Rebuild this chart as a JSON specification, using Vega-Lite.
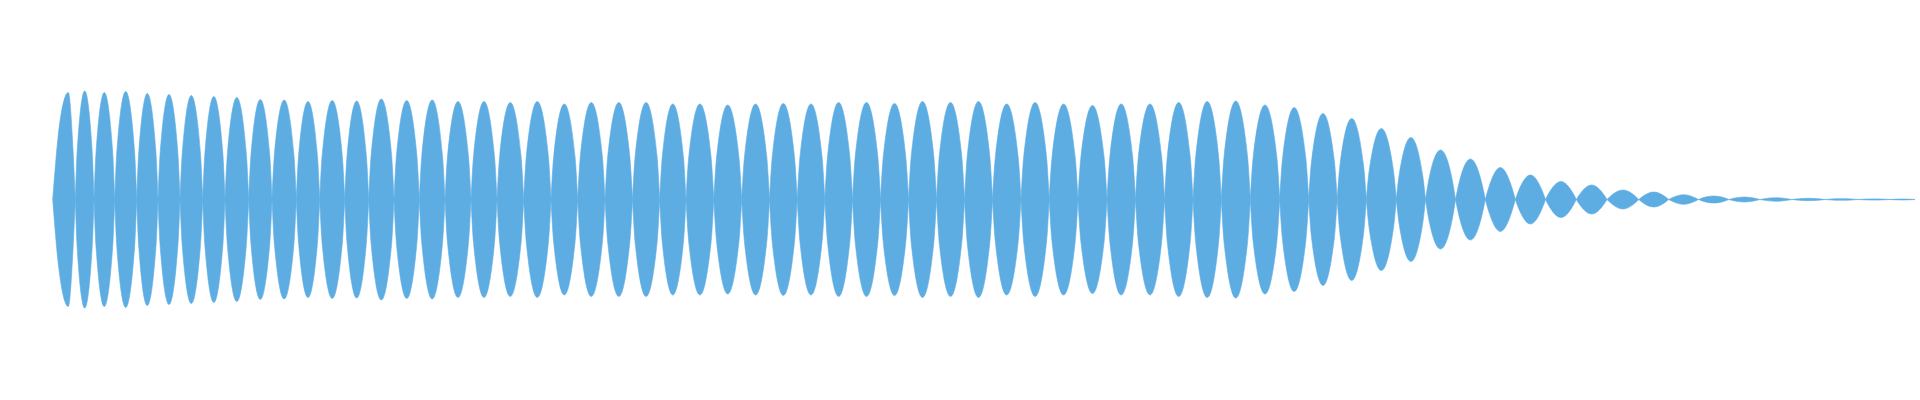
{
  "$schema": "https://vega.github.io/schema/vega-lite/v6.json",
  "width": 1920,
  "height": 400,
  "autosize": {"type": "fit", "contains": "padding"},
  "padding": 0,
  "background": "white",
  "config": {"view": {"stroke": null}},
  "data": {"values": [
    {"lobe":1,"t":52.7,"hi":0,"lo":0},{"lobe":1,"t":55.5,"hi":35,"lo":-35},{"lobe":1,"t":58,"hi":62,"lo":-62},{"lobe":1,"t":68.3,"hi":107,"lo":-107},{"lobe":1,"t":73.1,"hi":48,"lo":-48},{"lobe":1,"t":75.3,"hi":0,"lo":0},
    {"lobe":2,"t":75.3,"hi":0,"lo":0},{"lobe":2,"t":77.2,"hi":48.8,"lo":-48.8},{"lobe":2,"t":84.7,"hi":108.5,"lo":-108.5},{"lobe":2,"t":92.1,"hi":48.8,"lo":-48.8},{"lobe":2,"t":94,"hi":0,"lo":0},
    {"lobe":3,"t":94,"hi":0,"lo":0},{"lobe":3,"t":96.1,"hi":48.2,"lo":-48.2},{"lobe":3,"t":104.3,"hi":107,"lo":-107},{"lobe":3,"t":112.6,"hi":48.2,"lo":-48.2},{"lobe":3,"t":114.7,"hi":0,"lo":0},
    {"lobe":4,"t":114.7,"hi":0,"lo":0},{"lobe":4,"t":116.9,"hi":48.6,"lo":-48.6},{"lobe":4,"t":125.7,"hi":108,"lo":-108},{"lobe":4,"t":134.5,"hi":48.6,"lo":-48.6},{"lobe":4,"t":136.7,"hi":0,"lo":0},
    {"lobe":5,"t":136.7,"hi":0,"lo":0},{"lobe":5,"t":138.8,"hi":47.7,"lo":-47.7},{"lobe":5,"t":147.3,"hi":106,"lo":-106},{"lobe":5,"t":155.9,"hi":47.7,"lo":-47.7},{"lobe":5,"t":158,"hi":0,"lo":0},
    {"lobe":6,"t":158,"hi":0,"lo":0},{"lobe":6,"t":160.2,"hi":47.3,"lo":-47.3},{"lobe":6,"t":169,"hi":105,"lo":-105},{"lobe":6,"t":177.8,"hi":47.3,"lo":-47.3},{"lobe":6,"t":180,"hi":0,"lo":0},
    {"lobe":7,"t":180,"hi":0,"lo":0},{"lobe":7,"t":182.3,"hi":46.8,"lo":-46.8},{"lobe":7,"t":191.3,"hi":104,"lo":-104},{"lobe":7,"t":200.4,"hi":46.8,"lo":-46.8},{"lobe":7,"t":202.7,"hi":0,"lo":0},
    {"lobe":8,"t":202.7,"hi":0,"lo":0},{"lobe":8,"t":204.9,"hi":46.4,"lo":-46.4},{"lobe":8,"t":213.8,"hi":103,"lo":-103},{"lobe":8,"t":222.8,"hi":46.4,"lo":-46.4},{"lobe":8,"t":225,"hi":0,"lo":0},
    {"lobe":9,"t":225,"hi":0,"lo":0},{"lobe":9,"t":227.4,"hi":45.9,"lo":-45.9},{"lobe":9,"t":236.8,"hi":102,"lo":-102},{"lobe":9,"t":246.3,"hi":45.9,"lo":-45.9},{"lobe":9,"t":248.7,"hi":0,"lo":0},
    {"lobe":10,"t":248.7,"hi":0,"lo":0},{"lobe":10,"t":251,"hi":45,"lo":-45},{"lobe":10,"t":260.3,"hi":100,"lo":-100},{"lobe":10,"t":269.7,"hi":45,"lo":-45},{"lobe":10,"t":272,"hi":0,"lo":0},
    {"lobe":11,"t":272,"hi":0,"lo":0},{"lobe":11,"t":274.4,"hi":44.8,"lo":-44.8},{"lobe":11,"t":284.2,"hi":99.5,"lo":-99.5},{"lobe":11,"t":293.9,"hi":44.8,"lo":-44.8},{"lobe":11,"t":296.3,"hi":0,"lo":0},
    {"lobe":12,"t":296.3,"hi":0,"lo":0},{"lobe":12,"t":298.6,"hi":44.1,"lo":-44.1},{"lobe":12,"t":308,"hi":98,"lo":-98},{"lobe":12,"t":317.4,"hi":44.1,"lo":-44.1},{"lobe":12,"t":319.7,"hi":0,"lo":0},
    {"lobe":13,"t":319.7,"hi":0,"lo":0},{"lobe":13,"t":322.2,"hi":44.6,"lo":-44.6},{"lobe":13,"t":332.2,"hi":99,"lo":-99},{"lobe":13,"t":342.2,"hi":44.6,"lo":-44.6},{"lobe":13,"t":344.7,"hi":0,"lo":0},
    {"lobe":14,"t":344.7,"hi":0,"lo":0},{"lobe":14,"t":347.1,"hi":44.3,"lo":-44.3},{"lobe":14,"t":356.7,"hi":98.5,"lo":-98.5},{"lobe":14,"t":366.3,"hi":44.3,"lo":-44.3},{"lobe":14,"t":368.7,"hi":0,"lo":0},
    {"lobe":15,"t":368.7,"hi":0,"lo":0},{"lobe":15,"t":371.2,"hi":45.2,"lo":-45.2},{"lobe":15,"t":381.3,"hi":100.5,"lo":-100.5},{"lobe":15,"t":391.5,"hi":45.2,"lo":-45.2},{"lobe":15,"t":394,"hi":0,"lo":0},
    {"lobe":16,"t":394,"hi":0,"lo":0},{"lobe":16,"t":396.5,"hi":44.6,"lo":-44.6},{"lobe":16,"t":406.7,"hi":99,"lo":-99},{"lobe":16,"t":416.8,"hi":44.6,"lo":-44.6},{"lobe":16,"t":419.3,"hi":0,"lo":0},
    {"lobe":17,"t":419.3,"hi":0,"lo":0},{"lobe":17,"t":421.9,"hi":44.8,"lo":-44.8},{"lobe":17,"t":432.2,"hi":99.5,"lo":-99.5},{"lobe":17,"t":442.4,"hi":44.8,"lo":-44.8},{"lobe":17,"t":445,"hi":0,"lo":0},
    {"lobe":18,"t":445,"hi":0,"lo":0},{"lobe":18,"t":447.6,"hi":44.1,"lo":-44.1},{"lobe":18,"t":458,"hi":98,"lo":-98},{"lobe":18,"t":468.4,"hi":44.1,"lo":-44.1},{"lobe":18,"t":471,"hi":0,"lo":0},
    {"lobe":19,"t":471,"hi":0,"lo":0},{"lobe":19,"t":473.6,"hi":44.1,"lo":-44.1},{"lobe":19,"t":484,"hi":98,"lo":-98},{"lobe":19,"t":494.4,"hi":44.1,"lo":-44.1},{"lobe":19,"t":497,"hi":0,"lo":0},
    {"lobe":20,"t":497,"hi":0,"lo":0},{"lobe":20,"t":499.7,"hi":43.7,"lo":-43.7},{"lobe":20,"t":510.3,"hi":97,"lo":-97},{"lobe":20,"t":521,"hi":43.7,"lo":-43.7},{"lobe":20,"t":523.7,"hi":0,"lo":0},
    {"lobe":21,"t":523.7,"hi":0,"lo":0},{"lobe":21,"t":526.4,"hi":44.1,"lo":-44.1},{"lobe":21,"t":537.3,"hi":98,"lo":-98},{"lobe":21,"t":548.3,"hi":44.1,"lo":-44.1},{"lobe":21,"t":551,"hi":0,"lo":0},
    {"lobe":22,"t":551,"hi":0,"lo":0},{"lobe":22,"t":553.7,"hi":43,"lo":-43},{"lobe":22,"t":564.3,"hi":95.5,"lo":-95.5},{"lobe":22,"t":575,"hi":43,"lo":-43},{"lobe":22,"t":577.7,"hi":0,"lo":0},
    {"lobe":23,"t":577.7,"hi":0,"lo":0},{"lobe":23,"t":580.4,"hi":43.7,"lo":-43.7},{"lobe":23,"t":591.3,"hi":97,"lo":-97},{"lobe":23,"t":602.3,"hi":43.7,"lo":-43.7},{"lobe":23,"t":605,"hi":0,"lo":0},
    {"lobe":24,"t":605,"hi":0,"lo":0},{"lobe":24,"t":607.8,"hi":43.7,"lo":-43.7},{"lobe":24,"t":618.8,"hi":97,"lo":-97},{"lobe":24,"t":629.7,"hi":43.7,"lo":-43.7},{"lobe":24,"t":632.5,"hi":0,"lo":0},
    {"lobe":25,"t":632.5,"hi":0,"lo":0},{"lobe":25,"t":635.2,"hi":43.7,"lo":-43.7},{"lobe":25,"t":646.1,"hi":97,"lo":-97},{"lobe":25,"t":657,"hi":43.7,"lo":-43.7},{"lobe":25,"t":659.7,"hi":0,"lo":0},
    {"lobe":26,"t":659.7,"hi":0,"lo":0},{"lobe":26,"t":662.3,"hi":43,"lo":-43},{"lobe":26,"t":672.8,"hi":95.5,"lo":-95.5},{"lobe":26,"t":683.4,"hi":43,"lo":-43},{"lobe":26,"t":686,"hi":0,"lo":0},
    {"lobe":27,"t":686,"hi":0,"lo":0},{"lobe":27,"t":688.8,"hi":43,"lo":-43},{"lobe":27,"t":699.9,"hi":95.5,"lo":-95.5},{"lobe":27,"t":711,"hi":43,"lo":-43},{"lobe":27,"t":713.8,"hi":0,"lo":0},
    {"lobe":28,"t":713.8,"hi":0,"lo":0},{"lobe":28,"t":716.6,"hi":42.5,"lo":-42.5},{"lobe":28,"t":727.7,"hi":94.5,"lo":-94.5},{"lobe":28,"t":738.9,"hi":42.5,"lo":-42.5},{"lobe":28,"t":741.7,"hi":0,"lo":0},
    {"lobe":29,"t":741.7,"hi":0,"lo":0},{"lobe":29,"t":744.5,"hi":43,"lo":-43},{"lobe":29,"t":755.6,"hi":95.5,"lo":-95.5},{"lobe":29,"t":766.7,"hi":43,"lo":-43},{"lobe":29,"t":769.5,"hi":0,"lo":0},
    {"lobe":30,"t":769.5,"hi":0,"lo":0},{"lobe":30,"t":772.3,"hi":43.2,"lo":-43.2},{"lobe":30,"t":783.3,"hi":96,"lo":-96},{"lobe":30,"t":794.4,"hi":43.2,"lo":-43.2},{"lobe":30,"t":797.2,"hi":0,"lo":0},
    {"lobe":31,"t":797.2,"hi":0,"lo":0},{"lobe":31,"t":800,"hi":43,"lo":-43},{"lobe":31,"t":811,"hi":95.5,"lo":-95.5},{"lobe":31,"t":822,"hi":43,"lo":-43},{"lobe":31,"t":824.8,"hi":0,"lo":0},
    {"lobe":32,"t":824.8,"hi":0,"lo":0},{"lobe":32,"t":827.6,"hi":43.7,"lo":-43.7},{"lobe":32,"t":838.6,"hi":97,"lo":-97},{"lobe":32,"t":849.7,"hi":43.7,"lo":-43.7},{"lobe":32,"t":852.5,"hi":0,"lo":0},
    {"lobe":33,"t":852.5,"hi":0,"lo":0},{"lobe":33,"t":855.3,"hi":43.7,"lo":-43.7},{"lobe":33,"t":866.5,"hi":97,"lo":-97},{"lobe":33,"t":877.7,"hi":43.7,"lo":-43.7},{"lobe":33,"t":880.5,"hi":0,"lo":0},
    {"lobe":34,"t":880.5,"hi":0,"lo":0},{"lobe":34,"t":883.3,"hi":43.2,"lo":-43.2},{"lobe":34,"t":894.5,"hi":96,"lo":-96},{"lobe":34,"t":905.7,"hi":43.2,"lo":-43.2},{"lobe":34,"t":908.5,"hi":0,"lo":0},
    {"lobe":35,"t":908.5,"hi":0,"lo":0},{"lobe":35,"t":911.3,"hi":44.1,"lo":-44.1},{"lobe":35,"t":922.5,"hi":98,"lo":-98},{"lobe":35,"t":933.7,"hi":44.1,"lo":-44.1},{"lobe":35,"t":936.5,"hi":0,"lo":0},
    {"lobe":36,"t":936.5,"hi":0,"lo":0},{"lobe":36,"t":939.3,"hi":43.7,"lo":-43.7},{"lobe":36,"t":950.5,"hi":97,"lo":-97},{"lobe":36,"t":961.7,"hi":43.7,"lo":-43.7},{"lobe":36,"t":964.5,"hi":0,"lo":0},
    {"lobe":37,"t":964.5,"hi":0,"lo":0},{"lobe":37,"t":967.3,"hi":44.1,"lo":-44.1},{"lobe":37,"t":978.5,"hi":98,"lo":-98},{"lobe":37,"t":989.7,"hi":44.1,"lo":-44.1},{"lobe":37,"t":992.5,"hi":0,"lo":0},
    {"lobe":38,"t":992.5,"hi":0,"lo":0},{"lobe":38,"t":995.4,"hi":43,"lo":-43},{"lobe":38,"t":1006.7,"hi":95.5,"lo":-95.5},{"lobe":38,"t":1018.1,"hi":43,"lo":-43},{"lobe":38,"t":1021,"hi":0,"lo":0},
    {"lobe":39,"t":1021,"hi":0,"lo":0},{"lobe":39,"t":1023.8,"hi":43.7,"lo":-43.7},{"lobe":39,"t":1035.1,"hi":97,"lo":-97},{"lobe":39,"t":1046.4,"hi":43.7,"lo":-43.7},{"lobe":39,"t":1049.2,"hi":0,"lo":0},
    {"lobe":40,"t":1049.2,"hi":0,"lo":0},{"lobe":40,"t":1052.1,"hi":43,"lo":-43},{"lobe":40,"t":1063.6,"hi":95.5,"lo":-95.5},{"lobe":40,"t":1075.1,"hi":43,"lo":-43},{"lobe":40,"t":1078,"hi":0,"lo":0},
    {"lobe":41,"t":1078,"hi":0,"lo":0},{"lobe":41,"t":1080.9,"hi":42.3,"lo":-42.3},{"lobe":41,"t":1092.5,"hi":94,"lo":-94},{"lobe":41,"t":1104.1,"hi":42.3,"lo":-42.3},{"lobe":41,"t":1107,"hi":0,"lo":0},
    {"lobe":42,"t":1107,"hi":0,"lo":0},{"lobe":42,"t":1109.9,"hi":43,"lo":-43},{"lobe":42,"t":1121.2,"hi":95.5,"lo":-95.5},{"lobe":42,"t":1132.6,"hi":43,"lo":-43},{"lobe":42,"t":1135.5,"hi":0,"lo":0},
    {"lobe":43,"t":1135.5,"hi":0,"lo":0},{"lobe":43,"t":1138.4,"hi":43,"lo":-43},{"lobe":43,"t":1150,"hi":95.5,"lo":-95.5},{"lobe":43,"t":1161.6,"hi":43,"lo":-43},{"lobe":43,"t":1164.5,"hi":0,"lo":0},
    {"lobe":44,"t":1164.5,"hi":0,"lo":0},{"lobe":44,"t":1167.4,"hi":43.7,"lo":-43.7},{"lobe":44,"t":1178.7,"hi":97,"lo":-97},{"lobe":44,"t":1190.1,"hi":43.7,"lo":-43.7},{"lobe":44,"t":1193,"hi":0,"lo":0},
    {"lobe":45,"t":1193,"hi":0,"lo":0},{"lobe":45,"t":1195.8,"hi":44.1,"lo":-44.1},{"lobe":45,"t":1207.2,"hi":98,"lo":-98},{"lobe":45,"t":1218.5,"hi":44.1,"lo":-44.1},{"lobe":45,"t":1221.3,"hi":0,"lo":0},
    {"lobe":46,"t":1221.3,"hi":0,"lo":0},{"lobe":46,"t":1224.2,"hi":44.3,"lo":-44.3},{"lobe":46,"t":1235.8,"hi":98.5,"lo":-98.5},{"lobe":46,"t":1247.4,"hi":44.3,"lo":-44.3},{"lobe":46,"t":1250.3,"hi":0,"lo":0},
    {"lobe":47,"t":1250.3,"hi":0,"lo":0},{"lobe":47,"t":1253.2,"hi":42.5,"lo":-42.5},{"lobe":47,"t":1265,"hi":94.5,"lo":-94.5},{"lobe":47,"t":1276.8,"hi":42.5,"lo":-42.5},{"lobe":47,"t":1279.7,"hi":0,"lo":0},
    {"lobe":48,"t":1279.7,"hi":0,"lo":0},{"lobe":48,"t":1282.6,"hi":41.4,"lo":-41.4},{"lobe":48,"t":1294.2,"hi":92,"lo":-92},{"lobe":48,"t":1305.8,"hi":41.4,"lo":-41.4},{"lobe":48,"t":1308.7,"hi":0,"lo":0},
    {"lobe":49,"t":1308.7,"hi":0,"lo":0},{"lobe":49,"t":1311.6,"hi":38.7,"lo":-38.7},{"lobe":49,"t":1323,"hi":86,"lo":-86},{"lobe":49,"t":1334.3,"hi":38.7,"lo":-38.7},{"lobe":49,"t":1337.2,"hi":0,"lo":0},
    {"lobe":50,"t":1337.2,"hi":0,"lo":0},{"lobe":50,"t":1340.1,"hi":35.6,"lo":-35.6},{"lobe":50,"t":1351.7,"hi":81,"lo":-81},{"lobe":50,"t":1363.4,"hi":35.6,"lo":-35.6},{"lobe":50,"t":1366.3,"hi":0,"lo":0},
    {"lobe":51,"t":1366.3,"hi":0,"lo":0},{"lobe":51,"t":1369.3,"hi":29.8,"lo":-29.8},{"lobe":51,"t":1381.3,"hi":71,"lo":-71},{"lobe":51,"t":1393.3,"hi":29.8,"lo":-29.8},{"lobe":51,"t":1396.3,"hi":0,"lo":0},
    {"lobe":52,"t":1396.3,"hi":0,"lo":0},{"lobe":52,"t":1399.2,"hi":24.8,"lo":-24.8},{"lobe":52,"t":1410.9,"hi":62,"lo":-62},{"lobe":52,"t":1422.6,"hi":24.8,"lo":-24.8},{"lobe":52,"t":1425.5,"hi":0,"lo":0},
    {"lobe":53,"t":1425.5,"hi":0,"lo":0},{"lobe":53,"t":1428.5,"hi":18.3,"lo":-18.3},{"lobe":53,"t":1440.5,"hi":49.5,"lo":-49.5},{"lobe":53,"t":1452.5,"hi":18.3,"lo":-18.3},{"lobe":53,"t":1455.5,"hi":0,"lo":0},
    {"lobe":54,"t":1455.5,"hi":0,"lo":0},{"lobe":54,"t":1458.5,"hi":14.2,"lo":-14.2},{"lobe":54,"t":1470.4,"hi":40.5,"lo":-40.5},{"lobe":54,"t":1482.3,"hi":14.2,"lo":-14.2},{"lobe":54,"t":1485.3,"hi":0,"lo":0},
    {"lobe":55,"t":1485.3,"hi":0,"lo":0},{"lobe":55,"t":1488.3,"hi":10.6,"lo":-10.6},{"lobe":55,"t":1500.3,"hi":32,"lo":-32},{"lobe":55,"t":1512.3,"hi":10.6,"lo":-10.6},{"lobe":55,"t":1515.3,"hi":0,"lo":0},
    {"lobe":56,"t":1515.3,"hi":0,"lo":0},{"lobe":56,"t":1518.3,"hi":8.1,"lo":-8.1},{"lobe":56,"t":1530.4,"hi":24.5,"lo":-24.5},{"lobe":56,"t":1542.5,"hi":8.1,"lo":-8.1},{"lobe":56,"t":1545.5,"hi":0,"lo":0},
    {"lobe":57,"t":1545.5,"hi":0,"lo":0},{"lobe":57,"t":1548.6,"hi":5.9,"lo":-5.9},{"lobe":57,"t":1560.9,"hi":18,"lo":-18},{"lobe":57,"t":1573.2,"hi":5.9,"lo":-5.9},{"lobe":57,"t":1576.3,"hi":0,"lo":0},
    {"lobe":58,"t":1576.3,"hi":0,"lo":0},{"lobe":58,"t":1579.4,"hi":4.8,"lo":-4.8},{"lobe":58,"t":1591.7,"hi":14.5,"lo":-14.5},{"lobe":58,"t":1603.9,"hi":4.8,"lo":-4.8},{"lobe":58,"t":1607,"hi":0,"lo":0},
    {"lobe":59,"t":1607,"hi":0,"lo":0},{"lobe":59,"t":1610.2,"hi":3.1,"lo":-3.1},{"lobe":59,"t":1622.9,"hi":9.5,"lo":-9.5},{"lobe":59,"t":1635.6,"hi":3.1,"lo":-3.1},{"lobe":59,"t":1638.8,"hi":0,"lo":0},
    {"lobe":60,"t":1638.8,"hi":0,"lo":0},{"lobe":60,"t":1641.8,"hi":2.5,"lo":-2.5},{"lobe":60,"t":1653.8,"hi":7.5,"lo":-7.5},{"lobe":60,"t":1665.7,"hi":2.5,"lo":-2.5},{"lobe":60,"t":1668.7,"hi":0,"lo":0},
    {"lobe":61,"t":1668.7,"hi":0,"lo":0},{"lobe":61,"t":1671.7,"hi":1.6,"lo":-1.6},{"lobe":61,"t":1683.6,"hi":4.8,"lo":-4.8},{"lobe":61,"t":1695.5,"hi":1.6,"lo":-1.6},{"lobe":61,"t":1698.5,"hi":0,"lo":0},
    {"lobe":62,"t":1698.5,"hi":0,"lo":0},{"lobe":62,"t":1701.5,"hi":1.2,"lo":-1.2},{"lobe":62,"t":1713.7,"hi":3.5,"lo":-3.5},{"lobe":62,"t":1725.8,"hi":1.2,"lo":-1.2},{"lobe":62,"t":1728.8,"hi":0,"lo":0},
    {"lobe":63,"t":1728.8,"hi":0,"lo":0},{"lobe":63,"t":1731.9,"hi":0.8,"lo":-0.8},{"lobe":63,"t":1744.4,"hi":2.5,"lo":-2.5},{"lobe":63,"t":1756.9,"hi":0.8,"lo":-0.8},{"lobe":63,"t":1760,"hi":0,"lo":0},
    {"lobe":64,"t":1760,"hi":0,"lo":0},{"lobe":64,"t":1763.2,"hi":0.6,"lo":-0.6},{"lobe":64,"t":1776,"hi":1.8,"lo":-1.8},{"lobe":64,"t":1788.8,"hi":0.6,"lo":-0.6},{"lobe":64,"t":1792,"hi":0,"lo":0},
    {"lobe":65,"t":1792,"hi":0,"lo":0},{"lobe":65,"t":1795.3,"hi":0.4,"lo":-0.4},{"lobe":65,"t":1808.5,"hi":1.2,"lo":-1.2},{"lobe":65,"t":1821.7,"hi":0.4,"lo":-0.4},{"lobe":65,"t":1825,"hi":0,"lo":0},
    {"lobe":66,"t":1825,"hi":0,"lo":0},{"lobe":66,"t":1828.3,"hi":0.3,"lo":-0.3},{"lobe":66,"t":1841.5,"hi":0.8,"lo":-0.8},{"lobe":66,"t":1854.7,"hi":0.3,"lo":-0.3},{"lobe":66,"t":1858,"hi":0,"lo":0},
    {"lobe":67,"t":1858,"hi":0,"lo":0},{"lobe":67,"t":1861.2,"hi":0.2,"lo":-0.2},{"lobe":67,"t":1874,"hi":0.6,"lo":-0.6},{"lobe":67,"t":1886.8,"hi":0.2,"lo":-0.2},{"lobe":67,"t":1890,"hi":0,"lo":0},
    {"lobe":68,"t":1890,"hi":0,"lo":0},{"lobe":68,"t":1892.5,"hi":0.2,"lo":-0.2},{"lobe":68,"t":1902.5,"hi":0.5,"lo":-0.5},{"lobe":68,"t":1912.5,"hi":0.2,"lo":-0.2},{"lobe":68,"t":1915,"hi":0,"lo":0}
  ]},
  "mark": {"type": "area", "orient": "vertical", "interpolate": "monotone", "color": "#5DADE2", "stroke": "#5DADE2", "strokeWidth": 0.6},
  "encoding": {
    "x": {"field": "t", "type": "quantitative", "scale": {"domain": [0, 1920], "nice": false, "zero": false}, "axis": null},
    "y": {"field": "hi", "type": "quantitative", "scale": {"domain": [-200.5, 199.5], "nice": false}, "axis": null},
    "y2": {"field": "lo"},
    "detail": {"field": "lobe", "type": "nominal"}
  }
}
